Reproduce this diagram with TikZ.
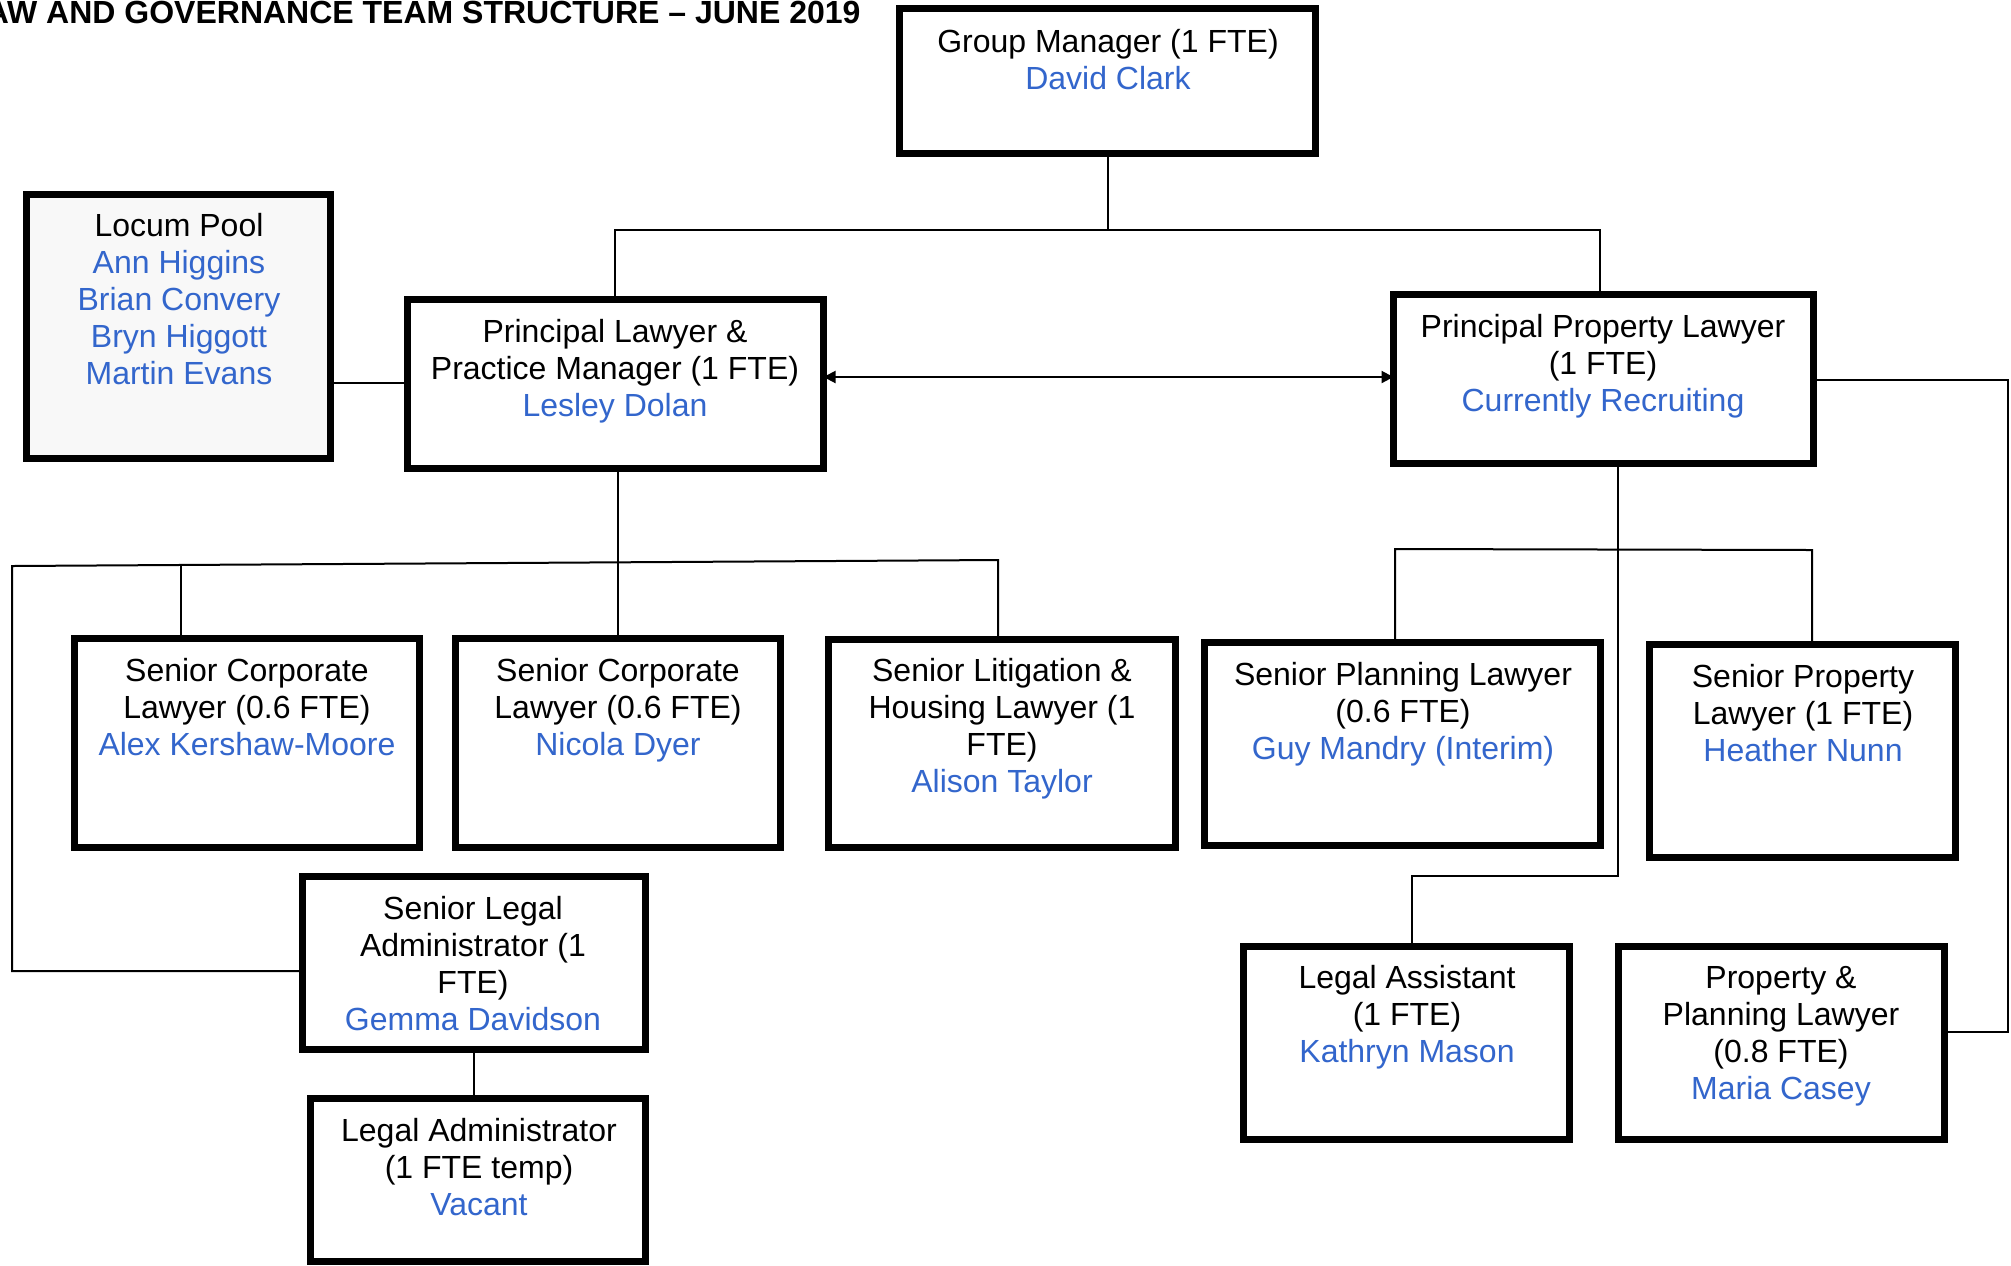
\documentclass[tikz,border=0pt]{standalone}
\usepackage{fontspec}
\setmainfont{Liberation Sans}
\usetikzlibrary{arrows.meta}
\definecolor{nameblue}{RGB}{51,102,204}
\definecolor{locumfill}{RGB}{248,248,248}
\newcommand{\nmb}[1]{\textcolor{nameblue}{#1}}
\begin{document}
\begin{tikzpicture}[x=0.5pt,y=-0.5pt,
  orgbox/.style={draw=black, line width=3.5pt, fill=white, inner sep=0pt, outer sep=0pt},
  txt/.style={anchor=north, inner sep=0pt, align=center, font=\fontsize{16}{18.5}\selectfont},
  conn/.style={draw=black, line width=1pt},
  dblarrow/.style={conn, {Triangle[length=6pt,width=6pt]}-{Triangle[length=6pt,width=6pt]}}
]
\useasboundingbox (0,0) rectangle (2011,1265);

% title
\node[anchor=base east, inner sep=0pt, font=\bfseries\fontsize{16}{18.5}\selectfont] (title) at (861,23) {AW AND GOVERNANCE TEAM STRUCTURE – JUNE 2019};

% boxes
\node[orgbox, minimum width=208pt, minimum height=72.5pt] (GM) at (1107.5,81) {};
\node[orgbox, fill=locumfill, minimum width=152pt, minimum height=132pt] (Locum) at (178.5,326.5) {};
\node[orgbox, minimum width=208pt, minimum height=84.5pt] (PL) at (615.5,384) {};
\node[orgbox, minimum width=210pt, minimum height=84.5pt] (PPL) at (1603.5,379) {};
\node[orgbox, minimum width=172.5pt, minimum height=104.5pt] (SC1) at (247,743) {};
\node[orgbox, minimum width=162.5pt, minimum height=104.5pt] (SC2) at (618,743) {};
\node[orgbox, minimum width=173.5pt, minimum height=104pt] (SL) at (1002,743.5) {};
\node[orgbox, minimum width=198pt, minimum height=101.5pt] (SPL) at (1402.5,744) {};
\node[orgbox, minimum width=153pt, minimum height=106.5pt] (SPropL) at (1802.5,751) {};
\node[orgbox, minimum width=171.5pt, minimum height=86.5pt] (SLA) at (474,963) {};
\node[orgbox, minimum width=167.5pt, minimum height=81.5pt] (LegAdm) at (478,1180) {};
\node[orgbox, minimum width=163pt, minimum height=96.5pt] (LegAsst) at (1406.5,1043) {};
\node[orgbox, minimum width=163pt, minimum height=96.5pt] (PP) at (1781.5,1043) {};

% texts
\node[txt] (GMt) at (1108,26) {\strut Group Manager (1 FTE)\\ \nmb{David Clark}};
\node[txt] (Locumt) at (179,210) {\strut Locum Pool\\ \nmb{Ann Higgins}\\ \nmb{Brian Convery}\\ \nmb{Bryn Higgott}\\ \nmb{Martin Evans}};
\node[txt] (PLt) at (615,316) {\strut Principal Lawyer \&\\ Practice Manager (1 FTE)\\ \nmb{Lesley Dolan}};
\node[txt] (PPLt) at (1603,311) {\strut Principal Property Lawyer\\ (1 FTE)\\ \nmb{Currently Recruiting}};
\node[txt] (SC1t) at (247,655) {\strut Senior Corporate\\ Lawyer (0.6 FTE)\\ \nmb{Alex Kershaw-Moore}};
\node[txt] (SC2t) at (618,655) {\strut Senior Corporate\\ Lawyer (0.6 FTE)\\ \nmb{Nicola Dyer}};
\node[txt] (SLt) at (1002,655) {\strut Senior Litigation \&\\ Housing Lawyer (1\\ FTE)\\ \nmb{Alison Taylor}};
\node[txt] (SPLt) at (1403,659) {\strut Senior Planning Lawyer\\ (0.6 FTE)\\ \nmb{Guy Mandry (Interim)}};
\node[txt] (SPropLt) at (1803,661) {\strut Senior Property\\ Lawyer (1 FTE)\\ \nmb{Heather Nunn}};
\node[txt] (SLAt) at (473,893) {\strut Senior Legal\\ Administrator (1\\ FTE)\\ \nmb{Gemma Davidson}};
\node[txt] (LegAdmt) at (479,1115) {\strut Legal Administrator\\ (1 FTE temp)\\ \nmb{Vacant}};
\node[txt] (LegAsstt) at (1407,962) {\strut Legal Assistant\\ (1 FTE)\\ \nmb{Kathryn Mason}};
\node[txt] (PPt) at (1781,962) {\strut Property \&\\ Planning Lawyer\\ (0.8 FTE)\\ \nmb{Maria Casey}};

% junction coordinates
\coordinate (tL) at (615,230);
\coordinate (tR) at (1600,230);
\coordinate (lk) at (369,383);
\coordinate (ar) at (1100,377);
\coordinate (hA) at (12,566);
\coordinate (hB) at (998,560);
\coordinate (cS) at (12,971);
\coordinate (v1) at (181,565);
\coordinate (rA) at (1395,549);
\coordinate (rB) at (1812,550);
\coordinate (rC) at (1618,876);
\coordinate (rD) at (1412,876);
\coordinate (eA) at (2008,380);
\coordinate (eB) at (2008,1032);

% connectors
\draw[conn] (GM.south) -- (GM.south |- tL);
\draw[conn] (PL.north -| tL) -- (tL) -- (tR) -- (PPL.north -| tR);
\draw[conn] (Locum.east |- lk) -- (PL.west |- lk);
\draw[dblarrow] (PL.east |- ar) -- (PPL.west |- ar);
\draw[conn] (SLA.west |- cS) -- (cS) -- (hA) -- (hB) -- (SL.north -| hB);
\draw[conn] (PL.south -| SC2.north) -- (SC2.north);
\draw[conn] (v1) -- (SC1.north -| v1);
\draw[conn] (SLA.south) -- (LegAdm.north -| SLA.south);
\draw[conn] (SPL.north -| rA) -- (rA) -- (rB) -- (SPropL.north -| rB);
\draw[conn] (PPL.south -| rC) -- (rC) -- (rD) -- (LegAsst.north -| rD);
\draw[conn] (PPL.east |- eA) -- (eA) -- (eB) -- (PP.east |- eB);
\end{tikzpicture}
\end{document}
